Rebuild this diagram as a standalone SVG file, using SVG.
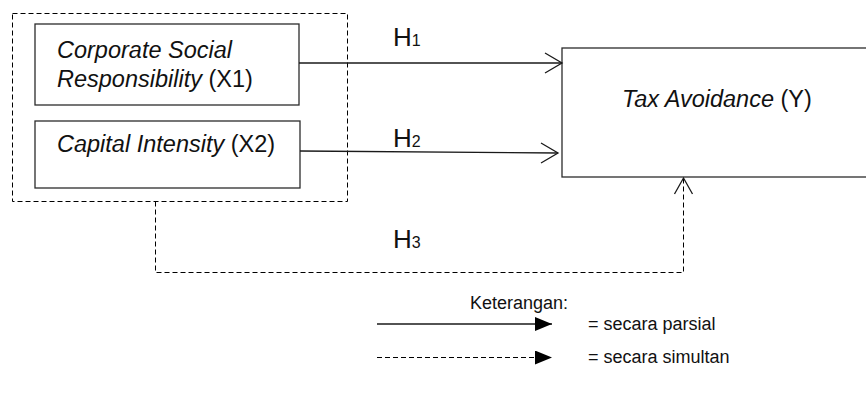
<svg xmlns="http://www.w3.org/2000/svg" width="866" height="399" viewBox="0 0 866 399">
<style>
  .box { fill: #ffffff; stroke: #2b2b2b; stroke-width: 1.3; }
  .dash { fill: none; stroke: #000; stroke-width: 1; stroke-dasharray: 5 3; }
  .line { fill: none; stroke: #1a1a1a; stroke-width: 1.3; }
  .head { fill: none; stroke: #1a1a1a; stroke-width: 1.3; }
  .lbl { font-family: "Liberation Sans", Arial, sans-serif; font-size: 23.5px; fill: #111; }
  .it { font-style: italic; }
  .h { font-family: "Liberation Sans", Arial, sans-serif; font-size: 26px; fill: #111; }
  .sub { font-size: 16px; }
  .leg { font-family: "Liberation Sans", Arial, sans-serif; font-size: 18px; fill: #111; }
</style>
<defs>
  <marker id="solidHead" viewBox="0 0 17 14" refX="17" refY="7" markerWidth="17" markerHeight="14" markerUnits="userSpaceOnUse" orient="auto">
    <path d="M0,0 L17,7 L0,14 Z" fill="#000"/>
  </marker>
</defs>
<rect width="866" height="399" fill="#ffffff"/>

<g id="group-x">
  <rect class="dash" x="12.5" y="13.5" width="335" height="188"/>
</g>

<g id="node-x1">
  <rect class="box" x="35" y="24" width="264" height="81"/>
  <text class="lbl" x="57" y="58"><tspan class="it">Corporate Social</tspan></text>
  <text class="lbl" x="57" y="87"><tspan class="it">Responsibility</tspan> (X1)</text>
</g>

<g id="node-x2">
  <rect class="box" x="35" y="121" width="265" height="67"/>
  <text class="lbl" x="57" y="152"><tspan class="it">Capital Intensity</tspan> (X2)</text>
</g>

<g id="node-y">
  <rect class="box" x="562" y="48" width="310" height="129"/>
  <text class="lbl" x="622" y="107"><tspan class="it">Tax Avoidance</tspan> (Y)</text>
</g>

<g id="connectors">
  <line class="line" x1="299" y1="63" x2="562" y2="63"/>
  <path class="head" d="M545,53 L562,63 L545,73"/>
  <line class="line" x1="300" y1="151" x2="558" y2="153"/>
  <path class="head" d="M541,143 L558,153 L541,163"/>
  <path class="dash" d="M155.5,201.5 L155.5,272.5 L683.5,272.5 L683.5,178"/>
  <path class="head" d="M674.5,194 L683.5,178 L692.5,194"/>
</g>

<g id="labels">
  <text class="h" x="393" y="46">H<tspan class="sub">1</tspan></text>
  <text class="h" x="393" y="147">H<tspan class="sub">2</tspan></text>
  <text class="h" x="393" y="248">H<tspan class="sub">3</tspan></text>
</g>

<g id="legend">
  <text class="leg" x="470" y="309">Keterangan:</text>
  <line class="line" x1="377" y1="324" x2="552" y2="324" marker-end="url(#solidHead)"/>
  <text class="leg" x="588" y="330">= secara parsial</text>
  <line class="dash" x1="377" y1="357.5" x2="552" y2="357.5" marker-end="url(#solidHead)"/>
  <text class="leg" x="588" y="363">= secara simultan</text>
</g>
</svg>
